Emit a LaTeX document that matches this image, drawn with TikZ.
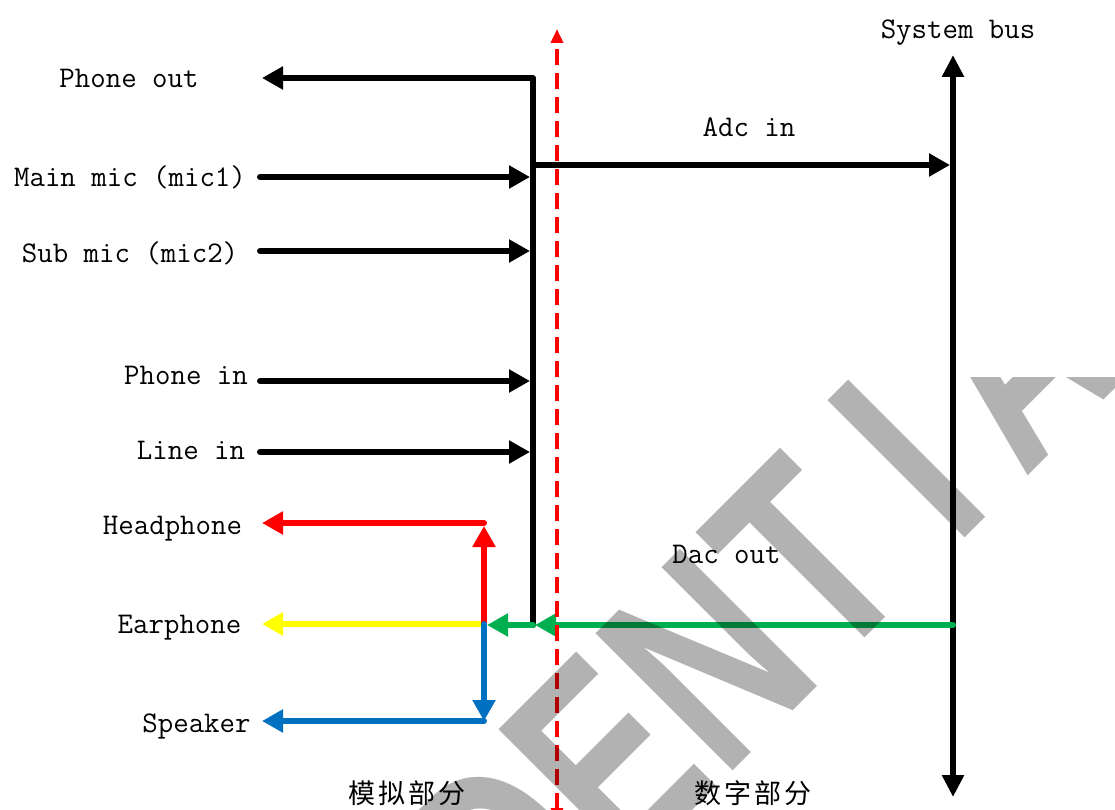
\documentclass[tikz,border=0pt]{standalone}
\usepackage{fontspec}
\usetikzlibrary{arrows.meta}
\newfontfamily\cjkfont[LetterSpace=12]{Noto Sans CJK SC}
\newfontfamily\wmfont[FakeStretch=0.72]{Liberation Sans}
\newcommand\wmcell[1]{\makebox[142pt][c]{#1}}
\definecolor{cred}{RGB}{255,0,0}
\definecolor{cyellow}{RGB}{255,255,0}
\definecolor{cblue}{RGB}{0,112,192}
\definecolor{cgreen}{RGB}{0,176,80}
\begin{document}
\begin{tikzpicture}[x=1pt,y=-1pt,
  lab/.style={font=\fontsize{30}{36}\selectfont\ttfamily, inner sep=0pt, anchor=base},
  cjk/.style={font=\fontsize{27}{30}\selectfont\cjkfont, inner sep=0pt, anchor=center},
  wire/.style={line width=6pt, line cap=round, line join=round},
  tip/.style={-{Triangle[length=21pt,width=22pt]}},
  dtip/.style={{Triangle[length=22pt,width=21pt]}-{Triangle[length=22pt,width=21pt]}},
  divider/.style={cred, line width=3.5pt, dash pattern=on 16pt off 8pt,
    {Triangle[length=14pt,width=12pt]}-{Triangle[length=14pt,width=12pt]}}
]
\clip (0,0) rectangle (1115,810);
\fill[white] (0,0) rectangle (1115,810);

% labels
\node[lab] (lphoneout) at (129,88) {Phone out};
\node[lab] (lmain) at (130,187) {Main mic (mic1)};
\node[lab] (lsub) at (130,262) {Sub mic (mic2)};
\node[lab] (lphonein) at (186,384) {Phone in};
\node[lab] (llinein) at (191,459) {Line in};
\node[lab] (lhead) at (172.5,534) {Headphone};
\node[lab] (lear) at (179.5,633) {Earphone};
\node[lab] (lspk) at (196.5,732) {Speaker};
\node[lab] (ladc) at (749,137) {Adc in};
\node[lab] (lsys) at (958,39) {System bus};
\node[lab] (ldac) at (726.5,563) {Dac out};
\node[cjk] (lana) at (407,793) {模拟部分};
\node[cjk] (ldig) at (753,793) {数字部分};

% coordinates
\coordinate (busTop) at (533,78);
\coordinate (busBot) at (533,625);
\coordinate (poEnd) at (262,78);
\coordinate (mainS) at (260,177);  \coordinate (mainE) at (530,177);
\coordinate (subS) at (260,251);   \coordinate (subE) at (530,251);
\coordinate (pinS) at (260,381);   \coordinate (pinE) at (530,381);
\coordinate (linS) at (260,452);   \coordinate (linE) at (530,452);
\coordinate (adcS) at (533,165);   \coordinate (adcE) at (950,165);
\coordinate (sbTop) at (953,55);   \coordinate (sbBot) at (953,797);
\coordinate (dvTop) at (557,29);   \coordinate (dvBot) at (557,822);
\coordinate (jn) at (484,624);
\coordinate (hdTip) at (484,526);
\coordinate (hdTop) at (484,523);  \coordinate (hdEnd) at (262,523);
\coordinate (spBot) at (484,721);  \coordinate (spEnd) at (262,721);
\coordinate (erEnd) at (262,624);
\coordinate (dacS) at (953,625);   \coordinate (dacE) at (535,625);
\coordinate (dac2E) at (487,625);

% black analog bus and phone out
\draw[wire, tip] (busBot) -- (busTop) -- (poEnd);
\draw[wire, tip] (mainS) -- (mainE);
\draw[wire, tip] (subS) -- (subE);
\draw[wire, tip] (pinS) -- (pinE);
\draw[wire, tip] (linS) -- (linE);
\draw[wire, tip] (adcS) -- (adcE);
% system bus
\draw[line width=6.5pt, dtip] (sbBot) -- (sbTop);

% coloured outputs
\draw[wire, tip, cyellow] (jn) -- (erEnd);
\draw[wire, tip, cred] (jn) -- (hdTip);
\draw[wire, tip, cred] (hdTop) -- (hdEnd);
\draw[wire, tip, cblue] (jn) -- (spBot);
\draw[wire, tip, cblue] (spBot) -- (spEnd);
\draw[wire, tip, cgreen] (dacS) -- (dacE);
\draw[wire, tip, cgreen] (busBot) -- (dac2E);

% divider
\draw[divider] (dvBot) -- (dvTop);

% watermark
\begin{scope}
\clip (0,377) rectangle (1115,810);
\node[font=\fontsize{282}{282}\selectfont\wmfont\bfseries, text=black, text opacity=0.3,
  inner sep=0pt, anchor=base, rotate=45] (wm) at (624.5,879)
  {\wmcell{C}\wmcell{O}\wmcell{N}\wmcell{F}\wmcell{I}\wmcell{D}\wmcell{E}\wmcell{N}\wmcell{T}\wmcell{I}\wmcell{A}\wmcell{L}};
\end{scope}
\end{tikzpicture}
\end{document}
